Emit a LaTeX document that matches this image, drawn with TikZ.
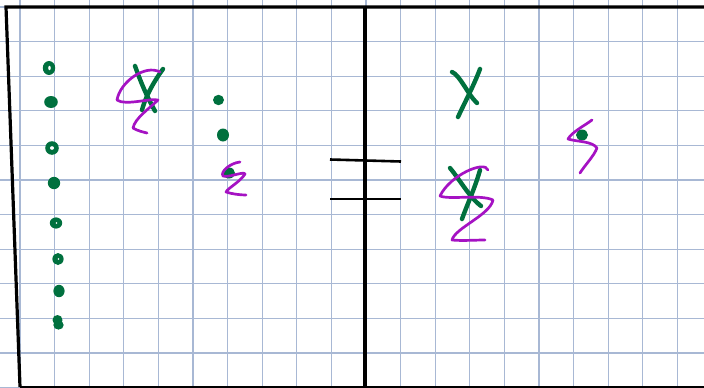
\documentclass[tikz,border=0pt]{standalone}
\usepackage{tikz}
\definecolor{gridblue}{RGB}{168,184,212}
\definecolor{penGreen}{RGB}{0,112,62}
\definecolor{penPurple}{RGB}{165,18,195}

\begin{document}
\begin{tikzpicture}[
  x=1pt,y=-1pt,
  gridline/.style={draw=gridblue,line width=1.3pt},
  border/.style={draw=black,line width=3.2pt},
  thinborder/.style={draw=black,line width=2.6pt},
  crossstroke/.style={draw=penGreen,line width=4.4pt,line cap=round},
  squiggle/.style={draw=penPurple,line width=2.7pt,line cap=round,line join=round},
  dotmark/.style={fill=penGreen},
  ringhole/.style={fill=white}
]
\useasboundingbox (0,0) rectangle (704,388);
\fill[white] (0,0) rectangle (704,388);
% squared paper
\foreach \k in {0,...,19}
  \draw[gridline] ({20+34.6*\k},0) -- ({20+34.6*\k},388);
\foreach \k in {0,...,11}
  \draw[gridline] (0,{7+34.6*\k}) -- (704,{7+34.6*\k});
% frame and middle line
\draw[border,line join=miter] (704,7) -- (6,7) -- (20,387);
\draw[thinborder] (20,387) -- (704,387);
\draw[border] (365,7) -- (365,388);
% equals sign
\draw[thinborder] (330,159.5) -- (401,161.5);
\draw[thinborder] (330,199) -- (401,199);

% left column of dots
\foreach \px/\py/\rx/\ry in {49/68/6.2/7, 51/102/6.8/6, 52/148/6.8/6.8, 54/183/6.2/6.2,
    56/223/6.2/5.6, 58/259/5.6/6, 59/291/5.6/6.2}
  \fill[dotmark] (\px,\py) ellipse [x radius=\rx,y radius=\ry];
\fill[dotmark] (57.5,320) ellipse [x radius=5,y radius=5];
\fill[dotmark] (58.5,325) ellipse [x radius=5.2,y radius=4.6];
\fill[ringhole] (49.5,68) ellipse [x radius=1.3,y radius=2.2];
\fill[ringhole] (52,148) ellipse [x radius=2,y radius=1.8];
\fill[ringhole] (56.5,223) circle [radius=0.8];
\fill[ringhole] (58.5,259) circle [radius=0.9];

% second column of dots
\fill[dotmark] (218.5,100) ellipse [x radius=5.5,y radius=5.2];
\fill[dotmark] (223,135) ellipse [x radius=6,y radius=6.5];
\fill[dotmark] (229,173) ellipse [x radius=6,y radius=5.5];
\draw[squiggle] (240,162) .. controls (230,163) and (220,172) .. (223,176)
  .. controls (228,178) and (244,171) .. (245,174)
  .. controls (240,182) and (228,188) .. (226,192)
  .. controls (232,194) and (240,195) .. (246,195);

% first crossed mark
\draw[crossstroke] (135,66) .. controls (140,80) and (146,95) .. (155,111);
\draw[crossstroke] (163,69) .. controls (155,80) and (146,95) .. (142,110);
\draw[squiggle] (160,72) .. controls (145,64) and (120,82) .. (117,100)
  .. controls (125,106) and (150,98) .. (158,100)
  .. controls (150,108) and (135,118) .. (133,128)
  .. controls (138,131) and (143,132) .. (147,133);

% right side: cross
\draw[crossstroke] (452,72) .. controls (460,75) and (468,95) .. (477,103);
\draw[crossstroke] (480,69) .. controls (474,85) and (466,100) .. (458,117);

% right side: crossed mark
\draw[crossstroke] (450,168) .. controls (460,180) and (470,198) .. (481,206);
\draw[crossstroke] (480,170) .. controls (475,188) and (467,205) .. (462,219);
\draw[squiggle] (488,170) .. controls (485,160) and (450,175) .. (440,196)
  .. controls (450,200) and (480,194) .. (493,200)
  .. controls (490,215) and (455,228) .. (452,240)
  .. controls (462,241) and (475,240) .. (485,240);

% right side: small dot with squiggle
\fill[dotmark] (582,135) ellipse [x radius=6,y radius=5.5];
\draw[squiggle] (592,120) .. controls (584,126) and (572,132) .. (568,139)
  .. controls (578,142) and (592,141) .. (597,148)
  .. controls (594,156) and (585,165) .. (580,173);
\end{tikzpicture}
\end{document}
